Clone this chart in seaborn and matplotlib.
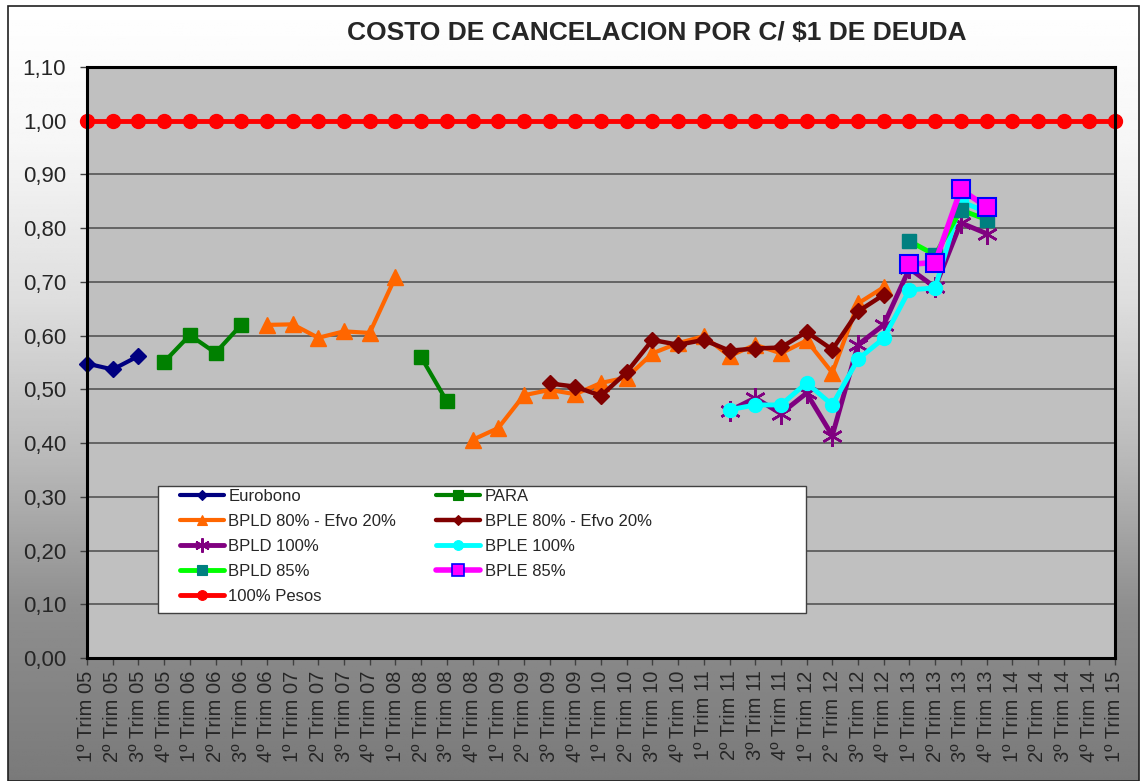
import numpy as np
import pandas as pd
import matplotlib.pyplot as plt
from matplotlib.lines import Line2D
from matplotlib.patches import Rectangle
import seaborn as sns

# Etiquetas del eje X (trimestres)
trimestres = [
    "1º Trim 05", "2º Trim 05", "3º Trim 05", "4º Trim 05",
    "1º Trim 06", "2º Trim 06", "3º Trim 06", "4º Trim 06",
    "1º Trim 07", "2º Trim 07", "3º Trim 07", "4º Trim 07",
    "1º Trim 08", "2º Trim 08", "3º Trim 08", "4º Trim 08",
    "1º Trim 09", "2º Trim 09", "3º Trim 09", "4º Trim 09",
    "1º Trim 10", "2º Trim 10", "3º Trim 10", "4º Trim 10",
    "1º Trim 11", "2º Trim 11", "3º Trim 11", "4º Trim 11",
    "1º Trim 12", "2° Trim 12", "3º Trim 12", "4º Trim 12",
    "1º Trim 13", "2º Trim 13", "3º Trim 13", "4º Trim 13",
    "1º Trim 14", "2º Trim 14", "3º Trim 14", "4º Trim 14",
    "1º Trim 15",
]

# Series: posicion del trimestre y valor
eurobono_x = [0, 1, 2]
eurobono_y = [0.548, 0.537, 0.562]

para_x = [3, 4, 5, 6, 13, 14]
para_y = [0.551, 0.601, 0.568, 0.620, 0.560, 0.478]

bpld80_x = [7, 8, 9, 10, 11, 12,
            15, 16, 17, 18, 19, 20, 21, 22, 23, 24, 25, 26, 27, 28, 29, 30, 31]
bpld80_y = [0.620, 0.621, 0.596, 0.608, 0.605, 0.709,
            0.406, 0.428, 0.489, 0.499, 0.491, 0.512, 0.522, 0.567, 0.586,
            0.599, 0.562, 0.583, 0.567, 0.591, 0.531, 0.660, 0.690]

bple80_x = [18, 19, 20, 21, 22, 23, 24, 25, 26, 27, 28, 29, 30, 31]
bple80_y = [0.511, 0.505, 0.488, 0.532, 0.592, 0.583, 0.592, 0.572, 0.576,
            0.578, 0.607, 0.574, 0.645, 0.676]

bpld100_x = [25, 26, 27, 28, 29, 30, 31, 32, 33, 34, 35]
bpld100_y = [0.460, 0.484, 0.455, 0.493, 0.414, 0.583, 0.620, 0.725, 0.690,
             0.810, 0.790]

bple100_x = [25, 26, 27, 28, 29, 30, 31, 32, 33, 34, 35]
bple100_y = [0.462, 0.471, 0.471, 0.512, 0.471, 0.556, 0.595, 0.685, 0.689,
             0.850, 0.830]

bpld85_x = [32, 33, 34, 35]
bpld85_y = [0.776, 0.750, 0.834, 0.816]

bple85_x = [32, 33, 34, 35]
bple85_y = [0.733, 0.736, 0.872, 0.840]

pesos_x = list(range(len(trimestres)))
pesos_y = [1.00] * len(trimestres)

series = [
    ("Eurobono", eurobono_x, eurobono_y),
    ("PARA", para_x, para_y),
    ("BPLD 80% - Efvo 20%", bpld80_x, bpld80_y),
    ("BPLE 80% - Efvo 20%", bple80_x, bple80_y),
    ("BPLD 100%", bpld100_x, bpld100_y),
    ("BPLE 100%", bple100_x, bple100_y),
    ("BPLD 85%", bpld85_x, bpld85_y),
    ("BPLE 85%", bple85_x, bple85_y),
    ("100% Pesos", pesos_x, pesos_y),
]

# armo tabla larga, con tramos cortados donde faltan trimestres
rows = []
for nombre, xs, ys in series:
    tramo = 0
    for i, (x, y) in enumerate(zip(xs, ys)):
        if i > 0 and x - xs[i - 1] > 1:
            tramo += 1
        rows.append({"serie": nombre, "trim": x, "costo": y, "tramo": tramo})
df = pd.DataFrame(rows)

asterisco = (6, 2, 0)
estilos = {
    "Eurobono": dict(color="#000080", marker="D", ms=8, mfc="#000080", mec="#000080", lw=3.0, mew=1),
    "PARA": dict(color="#008000", marker="s", ms=10, mfc="#008000", mec="#008000", lw=3.0, mew=1),
    "BPLD 80% - Efvo 20%": dict(color="#FF6600", marker="^", ms=11, mfc="#FF6600", mec="#FF6600", lw=3.0, mew=1),
    "BPLE 80% - Efvo 20%": dict(color="#800000", marker="D", ms=8, mfc="#800000", mec="#800000", lw=3.2, mew=1),
    "BPLD 100%": dict(color="#800080", marker=asterisco, ms=15, mfc="#800080", mec="#800080", lw=3.5, mew=1.8),
    "BPLE 100%": dict(color="#00FFFF", marker="o", ms=10, mfc="#00FFFF", mec="#00FFFF", lw=3.5, mew=1),
    "BPLD 85%": dict(color="#00FF00", marker="s", ms=10, mfc="#008080", mec="#008080", lw=3.5, mew=1),
    "BPLE 85%": dict(color="#FF00FF", marker="s", ms=13, mfc="#FF00FF", mec="#0000FF", lw=4.0, mew=1.5),
    "100% Pesos": dict(color="#FF0000", marker="o", ms=10, mfc="#FF0000", mec="#FF0000", lw=3.5, mew=1),
}

sns.set_style("white")
plt.rcParams["font.family"] = ["Liberation Sans", "DejaVu Sans"]

fig = plt.figure(figsize=(11.41, 7.81), dpi=100)
W, H = 1141, 781

# fondo degradado del grafico
bg = fig.add_axes([8 / W, 0, (1139 - 8) / W, (781 - 6) / H], zorder=-10)
yy = np.linspace(0, 1, 300)
tono = np.interp(yy, [0, 0.18, 0.38, 0.6, 0.78, 1.0], [255, 246, 222, 182, 142, 122]) / 255
bg.imshow(np.tile(tono[:, None], (1, 10)), cmap="gray", vmin=0, vmax=1,
          aspect="auto", extent=[0, 1, 0, 1], origin="upper")
bg.set_axis_off()
fig.add_artist(Rectangle((8 / W, 0), (1139 - 8) / W, (781 - 6) / H,
                         transform=fig.transFigure, fill=False, ec="#202020", lw=1.2))

AX_L, AX_R, AX_T, AX_B = 87, 1115, 67, 658
ax = fig.add_axes([AX_L / W, (H - AX_B) / H, (AX_R - AX_L) / W, (AX_B - AX_T) / H])
ax.set_facecolor("#C0C0C0")

for nombre, _, _ in series:
    e = estilos[nombre]
    sub = df[df.serie == nombre]
    sns.lineplot(data=sub, x="trim", y="costo", units="tramo", estimator=None,
                 sort=False, legend=False, ax=ax, color=e["color"], lw=e["lw"],
                 marker=e["marker"], markersize=e["ms"], markerfacecolor=e["mfc"],
                 markeredgecolor=e["mec"], markeredgewidth=e["mew"], clip_on=False)

ax.set_xlim(0, len(trimestres) - 1)
ax.set_ylim(0, 1.10)
ax.set_xticks(range(len(trimestres)))
ax.set_xticklabels(trimestres, rotation=90, fontsize=14.5)
yt = np.round(np.arange(0, 1.101, 0.1), 2)
ax.set_yticks(yt)
ax.set_yticklabels([f"{v:.2f}".replace(".", ",") for v in yt], fontsize=16)
ax.set_xlabel("")
ax.set_ylabel("")
ax.tick_params(axis="x", direction="out", length=5, width=1, color="#404040", pad=4, bottom=True)
ax.tick_params(axis="y", direction="out", length=5, width=1, color="#404040", pad=10, left=True)
ax.yaxis.grid(True, color="#555555", lw=1.2)
ax.xaxis.grid(False)
ax.set_axisbelow(True)
for s in ax.spines.values():
    s.set_color("black")
    s.set_linewidth(2.2)


def ax_px(x, y):
    # pixel de la figura -> fraccion de ejes
    return (x - AX_L) / (AX_R - AX_L), (AX_B - y) / (AX_B - AX_T)


# caja de la leyenda (mas ancha que el contenido, como en el original)
x0, y0 = ax_px(158, 613)
x1, y1 = ax_px(806, 486)
ax.add_patch(Rectangle((x0, y0), x1 - x0, y1 - y0, transform=ax.transAxes,
                       fc="white", ec="#404040", lw=1.0, zorder=4.9))

# leyenda (orden por columnas para que quede igual que el original)
orden = ["Eurobono", "BPLD 80% - Efvo 20%", "BPLD 100%", "BPLD 85%", "100% Pesos",
         "PARA", "BPLE 80% - Efvo 20%", "BPLE 100%", "BPLE 85%"]
handles = []
for nombre in orden:
    e = estilos[nombre]
    handles.append(Line2D([], [], color=e["color"], lw=e["lw"], marker=e["marker"],
                          markersize=e["ms"] * 0.7, markerfacecolor=e["mfc"],
                          markeredgecolor=e["mec"], markeredgewidth=e["mew"] * 0.8))
leg = ax.legend(handles, orden, ncol=2, loc="upper left",
                bbox_to_anchor=ax_px(180, 489), fontsize=12, frameon=False,
                handlelength=2.65, handletextpad=0.25, columnspacing=2.4,
                labelspacing=0.6, borderpad=0, borderaxespad=0)
leg.set_zorder(5)

fig.text(657 / W, 1 - 33 / H, "COSTO DE CANCELACION POR C/ \\$1 DE DEUDA",
         ha="center", va="center", fontsize=19, fontweight="bold")

fig.savefig("out.png", dpi=100)
